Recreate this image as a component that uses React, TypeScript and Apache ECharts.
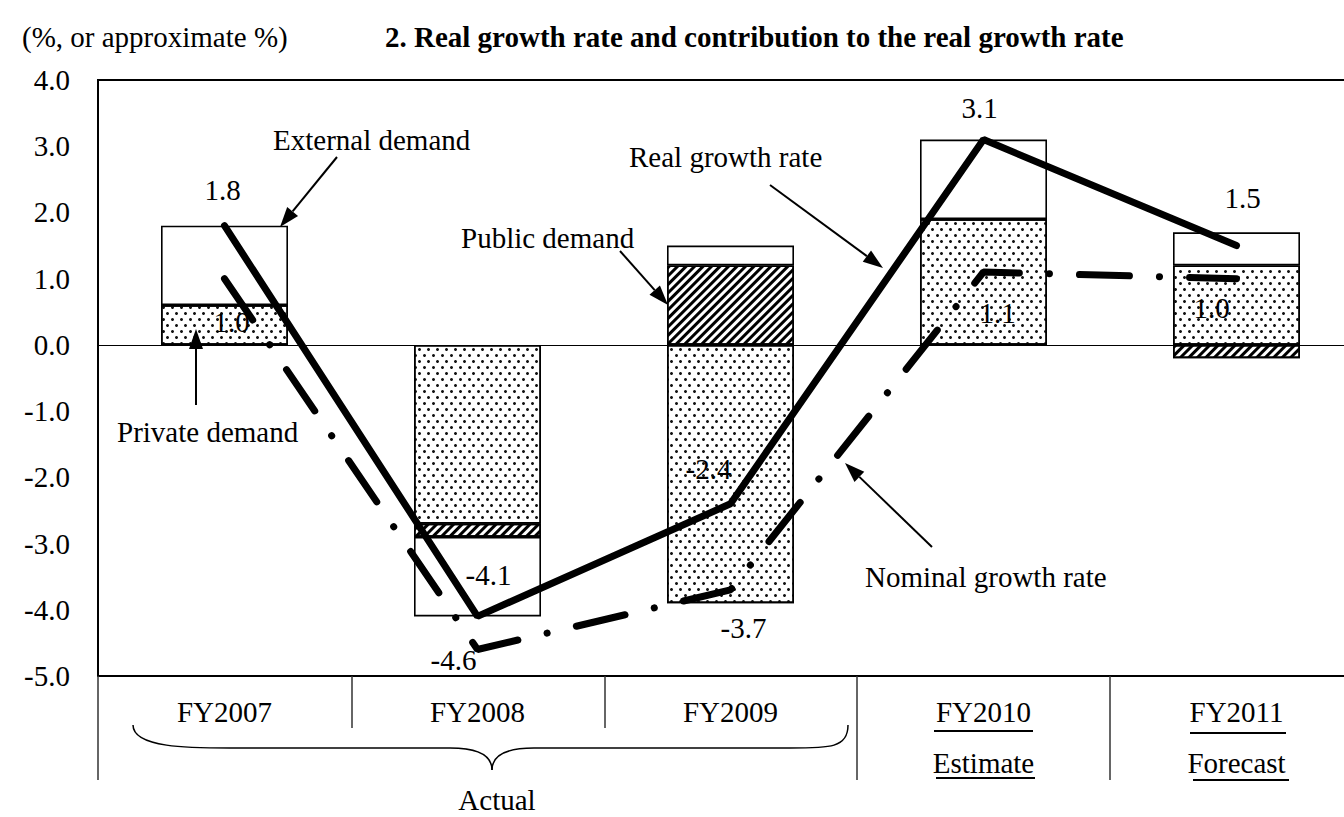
import React, { useEffect, useRef } from "react";
import * as echarts from "echarts";

const categories = ["FY2007", "FY2008", "FY2009", "FY2010", "FY2011"];
const categorySubLabels = ["", "", "", "Estimate", "Forecast"];
const privateDemand = [0.6, -2.7, -3.9, 1.9, 1.2];
const publicDemand = [0.0, -0.2, 1.2, 0.0, -0.2];
const externalDemand = [1.2, -1.2, 0.3, 1.2, 0.5];
const realGrowth = [1.8, -4.1, -2.4, 3.1, 1.5];
const nominalGrowth = [1.0, -4.6, -3.7, 1.1, 1.0];
const yMin = -5;
const yMax = 4;
const yInterval = 1;

const realLabelOffsets = [[-2, -36], [11, -41], [-22, -35], [-4, -32], [6, -48]];
const nominalLabelOffsets = [[7, 43], [-24, 10], [13, 38], [14, 41], [-25, 29]];

const FONT_FAMILY = "Liberation Serif";
const FS = 29;

function arrow(x1: number, y1: number, x2: number, y2: number) {
  const a = Math.atan2(y2 - y1, x2 - x1);
  const L = 20;
  const W = 7;
  const c = Math.cos(a);
  const s = Math.sin(a);
  const bx = x2 - L * c;
  const by = y2 - L * s;
  return [
    {
      type: "line",
      shape: { x1, y1, x2: bx, y2: by },
      style: { stroke: "#000", lineWidth: 2 },
      z: 100,
    },
    {
      type: "polygon",
      shape: {
        points: [
          [x2, y2],
          [bx - W * s, by + W * c],
          [bx + W * s, by - W * c],
        ],
      },
      style: { fill: "#000" },
      z: 100,
    },
  ];
}

function text(t: string, x: number, y: number, bold = false, align = "left") {
  return {
    type: "text",
    x,
    y,
    z: 100,
    style: {
      text: t,
      font: `${bold ? "bold " : ""}${FS}px "${FONT_FAMILY}"`,
      fill: "#000",
      align,
      verticalAlign: "middle",
    },
  };
}

function hline(x1: number, x2: number, y: number, w = 2) {
  return { type: "line", shape: { x1, y1: y, x2, y2: y }, style: { stroke: "#000", lineWidth: w }, z: 100 };
}
function vline(x: number, y1: number, y2: number, w = 1.5, color = "#333") {
  return { type: "line", shape: { x1: x, y1, x2: x, y2 }, style: { stroke: color, lineWidth: w }, z: 100 };
}

export default function App() {
  const ref = useRef<HTMLDivElement>(null);
  useEffect(() => {
    if (!ref.current) return;
    const chart = echarts.init(ref.current, null, { renderer: "svg" });

    const dotDecal = {
      symbol: "circle",
      symbolSize: 1,
      dashArrayX: [
        [2.4, 5.6],
        [0, 4, 2.4, 1.6],
      ],
      dashArrayY: [2.4, 2.3],
      color: "#111",
      rotation: 0,
    };
    const hatchDecal = {
      symbol: "rect",
      symbolSize: 1,
      dashArrayX: [1, 0],
      dashArrayY: [3, 3],
      color: "#000",
      rotation: -Math.PI / 4,
    };

    const barBase = {
      type: "bar",
      stack: "contrib",
      barWidth: 127,
      itemStyle: { color: "#fff", borderColor: "#000", borderWidth: 1.6 },
      emphasis: { disabled: true },
    };

    const labelStyle = {
      show: true,
      position: "inside",
      fontFamily: FONT_FAMILY,
      fontSize: FS,
      color: "#000",
      formatter: (p: any) => Number(p.value).toFixed(1),
    };

    const graphics: any[] = [
      text("(%, or approximate %)", 22, 37),
      text("2. Real growth rate and contribution to the real growth rate", 385, 37, true),
      text("External demand", 273, 140),
      text("Real growth rate", 629, 157),
      text("Public demand", 461, 238),
      text("Private demand", 117, 432),
      text("Nominal growth rate", 865, 577),
      text("Actual", 497, 800, false, "center"),
      ...arrow(337, 157, 280, 227),
      ...arrow(620, 251, 668, 305),
      ...arrow(770, 185, 883, 268),
      ...arrow(932, 547, 845, 463),
      ...arrow(196, 405, 196, 329),
      vline(98, 676, 780, 1.5, "#333"),
      vline(352, 676, 728),
      vline(605, 676, 728),
      vline(857, 676, 780),
      vline(1110, 676, 780),
      hline(934, 1033, 731),
      hline(936, 1035, 778),
      hline(1190, 1286, 733),
      hline(1193, 1289, 780),
      {
        type: "bezierCurve",
        shape: { x1: 133, y1: 725, cpx1: 133, cpy1: 748, cpx2: 190, cpy2: 748, x2: 230, y2: 748 },
        style: { stroke: "#000", lineWidth: 1.5, fill: null },
      },
      { type: "line", shape: { x1: 230, y1: 748, x2: 450, y2: 748 }, style: { stroke: "#000", lineWidth: 1.5 } },
      {
        type: "bezierCurve",
        shape: { x1: 450, y1: 748, cpx1: 478, cpy1: 748, cpx2: 492, cpy2: 755, x2: 492, y2: 770 },
        style: { stroke: "#000", lineWidth: 1.5, fill: null },
      },
      {
        type: "bezierCurve",
        shape: { x1: 492, y1: 770, cpx1: 492, cpy1: 755, cpx2: 506, cpy2: 748, x2: 534, y2: 748 },
        style: { stroke: "#000", lineWidth: 1.5, fill: null },
      },
      { type: "line", shape: { x1: 534, y1: 748, x2: 790, y2: 748 }, style: { stroke: "#000", lineWidth: 1.5 } },
      {
        type: "bezierCurve",
        shape: { x1: 790, y1: 748, cpx1: 830, cpy1: 748, cpx2: 848, cpy2: 748, x2: 848, y2: 725 },
        style: { stroke: "#000", lineWidth: 1.5, fill: null },
      },
    ];

    chart.setOption({
      animation: false,
      backgroundColor: "#fff",
      grid: {
        left: 98,
        top: 80,
        right: 0,
        bottom: 141,
        show: true,
        borderColor: "#000",
        borderWidth: 2,
        containLabel: false,
      },
      xAxis: {
        type: "category",
        data: categories,
        axisLine: { show: false },
        axisTick: { show: false },
        splitLine: { show: false },
        axisLabel: {
          interval: 0,
          margin: 10,
          fontFamily: FONT_FAMILY,
          fontSize: FS,
          color: "#000",
          lineHeight: 51,
          formatter: (v: string, i: number) => (categorySubLabels[i] ? `${v}\n${categorySubLabels[i]}` : v),
        },
      },
      yAxis: {
        type: "value",
        min: yMin,
        max: yMax,
        interval: yInterval,
        axisLine: { show: true, lineStyle: { color: "#000", width: 2 } },
        axisTick: { show: false },
        splitLine: { show: false },
        axisLabel: {
          margin: 28,
          fontFamily: FONT_FAMILY,
          fontSize: FS,
          color: "#000",
          formatter: (v: number) => v.toFixed(1),
        },
      },
      series: [
        {
          ...barBase,
          name: "Private demand",
          data: privateDemand,
          itemStyle: { ...barBase.itemStyle, decal: dotDecal },
          markLine: {
            silent: true,
            symbol: ["none", "none"],
            label: { show: false },
            lineStyle: { color: "#000", width: 1, type: "solid" },
            data: [{ yAxis: 0 }],
          },
        },
        {
          ...barBase,
          name: "Public demand",
          data: publicDemand,
          itemStyle: { ...barBase.itemStyle, decal: hatchDecal },
        },
        {
          ...barBase,
          name: "External demand",
          data: externalDemand,
        },
        {
          type: "line",
          name: "Real growth rate",
          data: realGrowth.map((v, i) => ({ value: v, label: { offset: realLabelOffsets[i] } })),
          symbol: "circle",
          symbolSize: 0.1,
          showSymbol: true,
          itemStyle: { color: "#000" },
          lineStyle: { color: "#000", width: 7, cap: "round" },
          label: labelStyle,
          z: 5,
        },
        {
          type: "line",
          name: "Nominal growth rate",
          data: nominalGrowth.map((v, i) => ({ value: v, label: { offset: nominalLabelOffsets[i] } })),
          symbol: "circle",
          symbolSize: 0.1,
          showSymbol: true,
          itemStyle: { color: "#000" },
          lineStyle: { color: "#000", width: 7, type: [50, 30, 0.1, 30], cap: "round" },
          label: labelStyle,
          z: 5,
        },
      ],
      graphic: graphics,
    });

    return () => chart.dispose();
  }, []);

  return (
    <div
      style={{
        position: "absolute",
        left: 0,
        top: 0,
        width: 1344,
        height: 817,
        overflow: "hidden",
        background: "#fff",
      }}
    >
      <div ref={ref} style={{ width: 1363, height: 817 }} />
    </div>
  );
}
